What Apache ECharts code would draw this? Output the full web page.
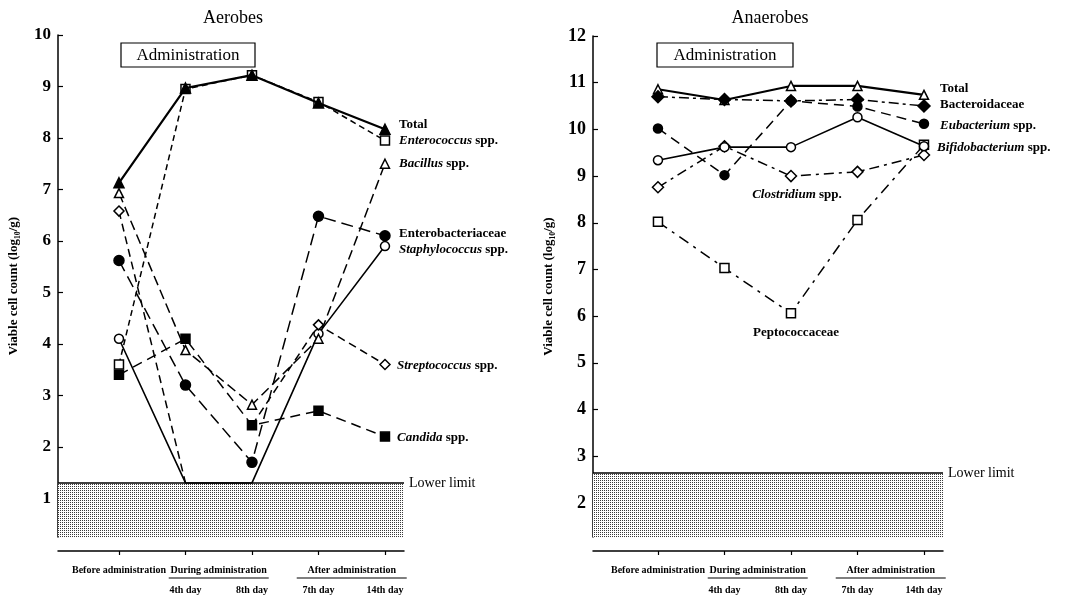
<!DOCTYPE html>
<html>
<head>
<meta charset="utf-8">
<script src="https://cdn.jsdelivr.net/npm/echarts@6/dist/echarts.min.js"></script>
<style>
  html, body { margin: 0; padding: 0; background: #fff; }
  #chart { width: 1085px; height: 599px; }
</style>
</head>
<body>
<div id="chart"></div>
<script>
// Sampling points (x index 0..4)
const timepoints = ['Before administration', '4th day', '8th day', '7th day', '14th day'];
const dayLabels = ['', '4th day', '8th day', '7th day', '14th day'];
const phaseLabels = ['Before administration', 'During administration', 'After administration'];

// Aerobes, viable cell count (log10/g)
const aeroTotal = [7.13, 8.97, 9.22, 8.68, 8.17];
const aeroEnterococcus = [3.6, 8.95, 9.22, 8.7, 7.95];
const aeroBacillus = [6.93, 3.88, 2.82, 4.1, 7.5];
const aeroEnterobacteriaceae = [5.62, 3.2, 1.7, 6.48, 6.1];
const aeroStaphylococcus = [4.1, 1.3, 1.3, 4.2, 5.9];
const aeroStreptococcus = [6.58, 1.3, 2.42, 4.37, 3.6];
const aeroCandida = [3.4, 4.1, 2.42, 2.7, 2.2];
const aeroLowerLimit = 1.3;
const aeroTicks = [1, 2, 3, 4, 5, 6, 7, 8, 9, 10];

// Anaerobes, viable cell count (log10/g)
const anaTotal = [10.86, 10.63, 10.93, 10.93, 10.74];
const anaBacteroidaceae = [10.7, 10.64, 10.61, 10.64, 10.5];
const anaEubacterium = [10.02, 9.02, 10.61, 10.49, 10.12];
const anaBifidobacterium = [9.34, 9.62, 9.62, 10.26, 9.64];
const anaClostridium = [8.76, 9.64, 9.0, 9.09, 9.45];
const anaPeptococcaceae = [8.02, 7.03, 6.06, 8.06, 9.67];
const anaLowerLimit = 2.64;
const anaTicks = [2, 3, 4, 5, 6, 7, 8, 9, 10, 11, 12];

const SERIF = '"Liberation Serif", "DejaVu Serif", serif';

// halftone dot pattern for the "below detection" band
const dots = document.createElement('canvas');
dots.width = 2; dots.height = 2;
const dg = dots.getContext('2d');
dg.fillStyle = '#ffffff'; dg.fillRect(0, 0, 2, 2);
dg.fillStyle = '#3a3a3a'; dg.fillRect(0, 0, 1, 1);

// turn a value list into [x, y] points; values at the detection limit get no marker
function points(vals, limit, opt) {
  opt = opt || {};
  return vals.map(function (v, i) {
    if (opt.only && opt.only.indexOf(i) < 0) return [i, '-'];
    if (opt.hide && opt.hide.indexOf(i) >= 0) return { value: [i, v], symbol: 'none' };
    if (v <= limit) return { value: [i, v], symbol: 'none' };
    return [i, v];
  });
}

function line(grid, name, data, symbol, filled, dash, width, size) {
  return {
    type: 'line', name: name, xAxisIndex: grid, yAxisIndex: grid,
    data: data, symbol: symbol, symbolSize: size || 8,
    lineStyle: { color: '#000', width: width || 1.5, type: dash || 'solid' },
    itemStyle: { color: filled ? '#000' : '#fff', borderColor: '#000', borderWidth: 1.5 },
    emphasis: { disabled: true }, z: filled ? 3 : 2
  };
}

function band(grid, yMin, limit) {
  return {
    type: 'line', xAxisIndex: grid, yAxisIndex: grid, data: [], silent: true,
    markArea: {
      silent: true,
      itemStyle: { color: { image: dots, repeat: 'repeat' } },
      data: [[{ yAxis: yMin }, { yAxis: limit }]]
    },
    markLine: {
      silent: true, symbol: 'none', animation: false,
      lineStyle: { color: '#000', width: 1.5, type: 'solid' },
      label: { show: true, position: 'end', formatter: 'Lower limit', distance: 5,
               color: '#000', fontFamily: SERIF, fontSize: 14 },
      data: [{ yAxis: limit }]
    },
    z: 1
  };
}

function xAxisDef(grid, min, max) {
  return {
    type: 'value', gridIndex: grid, min: min, max: max, offset: 14,
    axisLine: { show: true, onZero: false, lineStyle: { color: '#000', width: 1.5 } },
    axisTick: { show: true, length: 4, customValues: [0, 1, 2, 3, 4], lineStyle: { color: '#000', width: 1.2 } },
    splitLine: { show: false },
    axisLabel: {
      customValues: [0, 1, 2, 3, 4], margin: 9,
      formatter: function (v) {
        return v === 0 ? '{a|' + timepoints[0] + '}\n{a| }' : '{a| }\n{a|' + dayLabels[v] + '}';
      },
      rich: { a: { fontFamily: SERIF, fontWeight: 'bold', fontSize: 10, color: '#000', lineHeight: 20 } }
    }
  };
}

function yAxisDef(grid, min, max, ticks, fontSize) {
  return {
    type: 'value', gridIndex: grid, min: min, max: max,
    name: 'Viable cell count (log\u2081\u2080/g)', nameLocation: 'middle', nameRotate: 90, nameGap: 38,
    nameTextStyle: { fontFamily: SERIF, fontWeight: 'bold', fontSize: 13, color: '#000' },
    axisLine: { show: true, onZero: false, lineStyle: { color: '#000', width: 1.5 } },
    axisTick: { show: true, inside: true, length: 5, customValues: ticks, lineStyle: { color: '#000', width: 1.2 } },
    splitLine: { show: false },
    axisLabel: { customValues: ticks, margin: 7, fontFamily: SERIF, fontWeight: 'bold', fontSize: fontSize, color: '#000' }
  };
}

const chart = echarts.init(document.getElementById('chart'), null, { renderer: 'canvas' });

const option = {
  animation: false,
  backgroundColor: '#fff',
  grid: [
    { left: 58, top: 35, width: 346, height: 502 },
    { left: 593, top: 36, width: 350, height: 501 }
  ],
  xAxis: [xAxisDef(0, -0.917, 4.286), xAxisDef(1, -0.977, 4.286)],
  yAxis: [yAxisDef(0, 0.25, 10, aeroTicks, 17), yAxisDef(1, 1.27, 12, anaTicks, 18)],
  series: [
    band(0, 0.25, aeroLowerLimit),
    line(0, 'Candida', points(aeroCandida, aeroLowerLimit), 'rect', true, [10, 6], 1.5, 9),
    line(0, 'Enterobacteriaceae', points(aeroEnterobacteriaceae, aeroLowerLimit), 'circle', true, [12, 6], 1.5, 10),
    line(0, 'Staphylococcus', points(aeroStaphylococcus, aeroLowerLimit), 'circle', false, 'solid', 1.6, 9),
    line(0, 'Streptococcus', points(aeroStreptococcus, aeroLowerLimit, { only: [0, 1] }), 'diamond', false, [8, 5], 1.5, 10),
    line(0, 'Streptococcus', points(aeroStreptococcus, aeroLowerLimit, { only: [2, 3, 4], hide: [2] }), 'diamond', false, [8, 5], 1.5, 10),
    line(0, 'Bacillus', points(aeroBacillus, aeroLowerLimit), 'triangle', false, [10, 5], 1.5, 9),
    line(0, 'Enterococcus', points(aeroEnterococcus, aeroLowerLimit), 'rect', false, [6, 4], 1.5, 9),
    line(0, 'Total', points(aeroTotal, aeroLowerLimit), 'triangle', true, 'solid', 2.2, 10),

    band(1, 1.27, anaLowerLimit),
    line(1, 'Peptococcaceae', points(anaPeptococcaceae, anaLowerLimit), 'rect', false, [11, 6, 3, 6], 1.5, 9),
    line(1, 'Clostridium', points(anaClostridium, anaLowerLimit), 'diamond', false, [10, 5, 3, 5], 1.5, 11),
    line(1, 'Bifidobacterium', points(anaBifidobacterium, anaLowerLimit), 'circle', false, 'solid', 1.6, 9),
    line(1, 'Eubacterium', points(anaEubacterium, anaLowerLimit), 'circle', true, [10, 6], 1.5, 9),
    line(1, 'Bacteroidaceae', points(anaBacteroidaceae, anaLowerLimit), 'diamond', true, [10, 4, 3, 4], 1.5, 12),
    line(1, 'Total', points(anaTotal, anaLowerLimit), 'triangle', false, 'solid', 2.2, 9)
  ]
};
chart.setOption(option);

// text annotations
function txt(x, y, text, o) {
  o = o || {};
  return {
    type: 'text', x: x, y: y, silent: true, z: 10,
    style: {
      text: text, fill: '#000', font: (o.weight || 'normal') + ' ' + (o.size || 13) + 'px ' + SERIF,
      textAlign: o.align || 'left', textVerticalAlign: 'middle',
      rich: { i: { fontStyle: 'italic', fontWeight: o.weight || 'normal', fontSize: o.size || 13, fontFamily: SERIF } }
    }
  };
}
function box(cx, cy, w, h, label) {
  return [
    { type: 'rect', shape: { x: cx - w / 2, y: cy - h / 2, width: w, height: h }, silent: true,
      style: { fill: '#fff', stroke: '#000', lineWidth: 1.2 }, z: 10 },
    txt(cx, cy + 1, label, { size: 17, align: 'center' })
  ];
}

const graphics = [];
graphics.push(txt(233, 18, 'Aerobes', { size: 18, align: 'center' }));
graphics.push(txt(770, 18, 'Anaerobes', { size: 18, align: 'center' }));
box(188, 55, 134, 24, 'Administration').forEach(function (g) { graphics.push(g); });
box(725, 55, 136, 24, 'Administration').forEach(function (g) { graphics.push(g); });

// series names beside the curves
const wb = { weight: 'bold' };
graphics.push(txt(399, 125, 'Total', wb));
graphics.push(txt(399, 141, '{i|Enterococcus} spp.', wb));
graphics.push(txt(399, 164, '{i|Bacillus} spp.', wb));
graphics.push(txt(399, 234, 'Enterobacteriaceae', wb));
graphics.push(txt(399, 250, '{i|Staphylococcus} spp.', wb));
graphics.push(txt(397, 366, '{i|Streptococcus} spp.', wb));
graphics.push(txt(397, 438, '{i|Candida} spp.', wb));

graphics.push(txt(940, 89, 'Total', wb));
graphics.push(txt(940, 105, 'Bacteroidaceae', wb));
graphics.push(txt(940, 126, '{i|Eubacterium} spp.', wb));
graphics.push(txt(937, 148, '{i|Bifidobacterium} spp.', wb));
graphics.push(txt(797, 195, '{i|Clostridium} spp.', { weight: 'bold', align: 'center' }));
graphics.push(txt(796, 333, 'Peptococcaceae', { weight: 'bold', align: 'center' }));

// phase headings under the time axis, centred between their sampling days
[0, 1].forEach(function (g) {
  const px = function (i) { return chart.convertToPixel({ xAxisIndex: g, yAxisIndex: g }, [i, 5])[0]; };
  const during = (px(1) + px(2)) / 2;
  const after = (px(3) + px(4)) / 2;
  graphics.push(txt(during, 570, phaseLabels[1], { weight: 'bold', size: 10, align: 'center' }));
  graphics.push(txt(after, 570, phaseLabels[2], { weight: 'bold', size: 10, align: 'center' }));
  graphics.push({ type: 'line', silent: true, shape: { x1: during - 50, y1: 578, x2: during + 50, y2: 578 },
                  style: { stroke: '#000', lineWidth: 1.2 } });
  graphics.push({ type: 'line', silent: true, shape: { x1: after - 55, y1: 578, x2: after + 55, y2: 578 },
                  style: { stroke: '#000', lineWidth: 1.2 } });
});

chart.setOption({ graphic: graphics });
</script>
</body>
</html>
